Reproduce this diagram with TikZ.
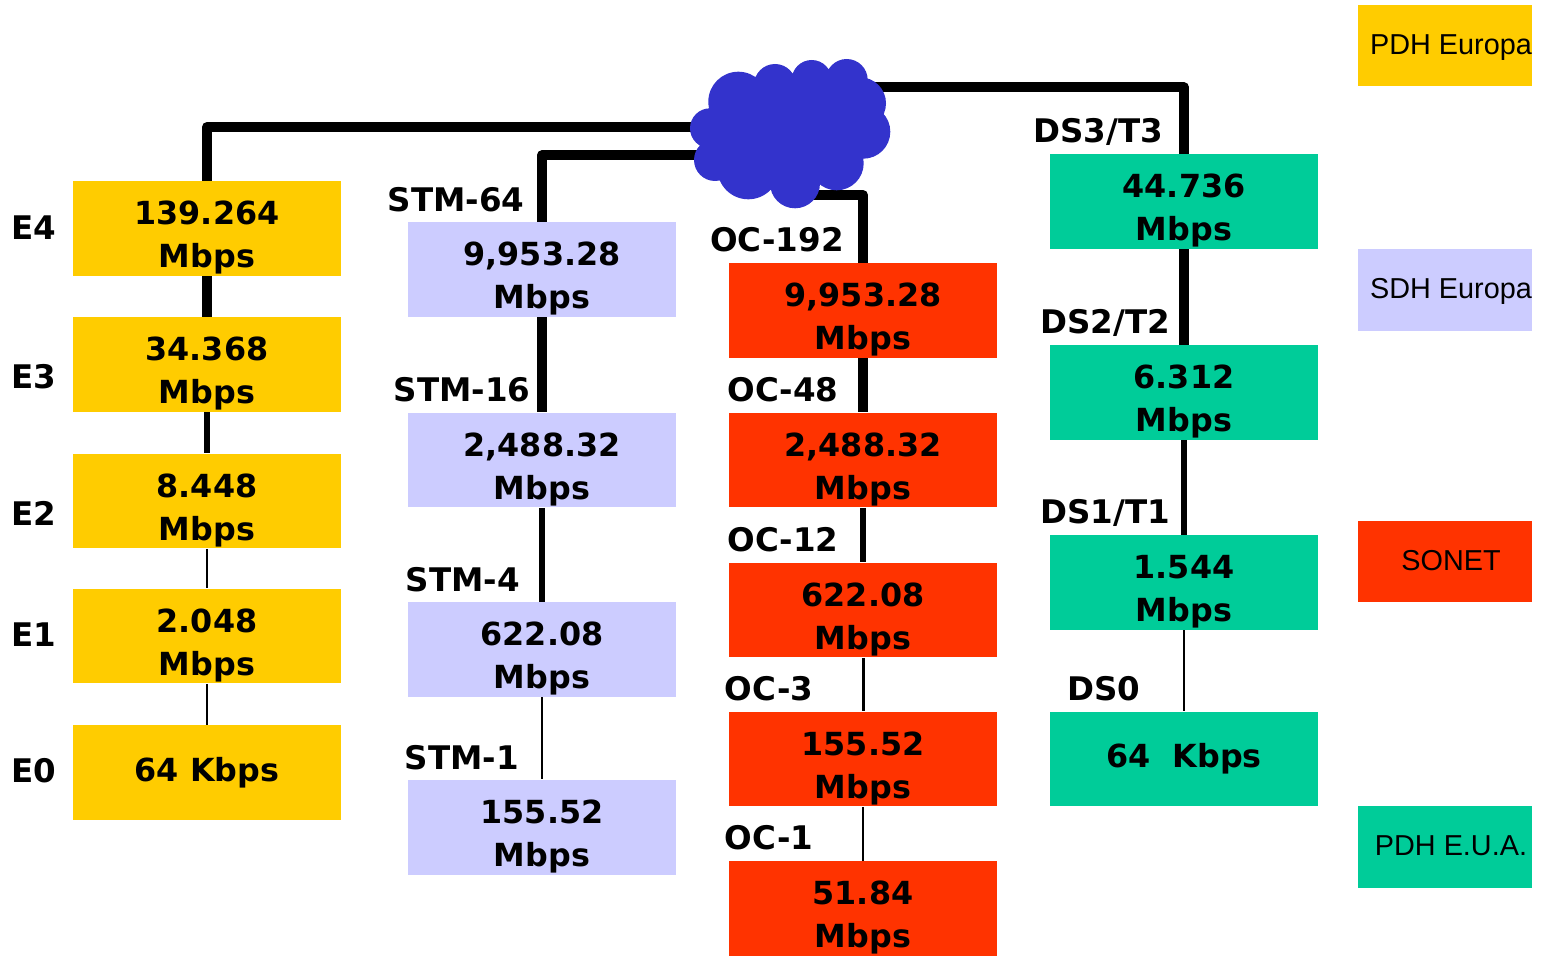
\documentclass[tikz,border=0pt]{standalone}
\usepackage{fontspec}
\setmainfont{DejaVu Sans}
\newfontfamily\legendfont{Liberation Sans}
\usetikzlibrary{shapes,backgrounds}
\definecolor{pdheu}{HTML}{FFCC00}
\definecolor{sdheu}{HTML}{CCCCFF}
\definecolor{sonet}{HTML}{FF3300}
\definecolor{pdhus}{HTML}{00CC99}
\definecolor{netblue}{HTML}{3333CC}
\newcommand{\rate}[1]{\rule{0pt}{24pt}#1\\Mbps}
\newcommand{\legtext}[1]{\hspace{6.8pt}\rule[-3.5pt]{0pt}{17pt}#1}

\begin{document}
\begin{tikzpicture}[
    x=0.02cm,y=-0.02cm,
    rt/.style   = {rectangle,inner sep=0pt,align=center,font=\fontsize{18.1}{24.4}\selectfont\bfseries,
                   minimum width=5.36cm,minimum height=1.9cm},
    lg/.style   = {rectangle,inner sep=0pt,align=center,font=\fontsize{16.4}{20}\selectfont\legendfont,
                   minimum width=3.48cm,minimum height=1.63cm},
    nm/.style   = {inner sep=0pt,font=\fontsize{18.5}{22}\selectfont\bfseries},
    ln/.style   = {black,line join=round},
  ]
  \useasboundingbox (0,0) rectangle (1544,956);

  % PDH Europa
  \node[rt,fill=pdheu] (e4) at (207,228.5) {\rate{139.264}};
  \node[rt,fill=pdheu] (e3) at (207,364.5) {\rate{34.368}};
  \node[rt,fill=pdheu] (e2) at (207,501)   {\rate{8.448}};
  \node[rt,fill=pdheu] (e1) at (207,636)   {\rate{2.048}};
  \node[rt,fill=pdheu] (e0) at (207,772.5) {64 Kbps};
  \node[nm] (le4) at (34,228) {E4};
  \node[nm] (le3) at (34,377) {E3};
  \node[nm] (le2) at (34,513) {E2};
  \node[nm] (le1) at (34,635) {E1};
  \node[nm] (le0) at (34,771) {E0};

  % SDH Europa
  \node[rt,fill=sdheu] (stm64) at (542,269.5) {\rate{9,953.28}};
  \node[rt,fill=sdheu] (stm16) at (542,460)   {\rate{2,488.32}};
  \node[rt,fill=sdheu] (stm4)  at (542,649.5) {\rate{622.08}};
  \node[rt,fill=sdheu] (stm1)  at (542,827)   {\rate{155.52}};
  \node[nm] (lstm64) at (456,200) {STM-64};
  \node[nm] (lstm16) at (462,390) {STM-16};
  \node[nm] (lstm4)  at (463,580) {STM-4};
  \node[nm] (lstm1)  at (462,758) {STM-1};

  % SONET
  \node[rt,fill=sonet] (oc192) at (863,310.5) {\rate{9,953.28}};
  \node[rt,fill=sonet] (oc48)  at (863,460)   {\rate{2,488.32}};
  \node[rt,fill=sonet] (oc12)  at (863,610)   {\rate{622.08}};
  \node[rt,fill=sonet] (oc3)   at (863,759)   {\rate{155.52}};
  \node[rt,fill=sonet] (oc1)   at (863,908.5) {\rate{51.84}};
  \node[nm] (loc192) at (777,240) {OC-192};
  \node[nm] (loc48)  at (783,390) {OC-48};
  \node[nm] (loc12)  at (783,540) {OC-12};
  \node[nm] (loc3)   at (769,689) {OC-3};
  \node[nm] (loc1)   at (769,838) {OC-1};

  % PDH E.U.A.
  \node[rt,fill=pdhus] (t3)  at (1184,201.5) {\rate{44.736}};
  \node[rt,fill=pdhus] (t2)  at (1184,392.5) {\rate{6.312}};
  \node[rt,fill=pdhus] (t1)  at (1184,582.5) {\rate{1.544}};
  \node[rt,fill=pdhus] (ds0) at (1184,759)   {64\ \ Kbps};
  \node[nm] (lt3)  at (1098,132) {DS3/T3};
  \node[nm] (lt2)  at (1105,323) {DS2/T2};
  \node[nm] (lt1)  at (1105,513) {DS1/T1};
  \node[nm] (lds0) at (1104,689) {DS0};

  % legend
  \node[lg,fill=pdheu] (lgpdh) at (1445,45.5)  {\legtext{PDH Europa}};
  \node[lg,fill=sdheu] (lgsdh) at (1445,290)   {\legtext{SDH Europa}};
  \node[lg,fill=sonet] (lgson) at (1445,561.5) {\legtext{SONET}};
  \node[lg,fill=pdhus] (lgusa) at (1445,847)   {\legtext{PDH E.U.A.}};

  % cloud
  \node[circle,inner sep=0pt,fill=netblue,minimum size=2.27cm] (net) at (790,133) {};
  \fill[netblue] (738.3,101.7) circle (30) (775,85) circle (21) (811.7,80) circle (20)
    (846.7,80) circle (21) (860,103.3) circle (26) (863.3,131.7) circle (27)
    (836.7,163.3) circle (27) (795,183.3) circle (25) (748.3,168.3) circle (31)
    (715,160) circle (21) (710,128.3) circle (20)
    (745,135) circle (34) (822,100) circle (28) (780,105) circle (28) (840,135) circle (30);

  \begin{scope}[on background layer]
    \draw[ln,line width=5.7pt] (net.174) -| (e4);
    \draw[ln,line width=5.7pt] (net.203) -| (stm64);
    \draw[ln,line width=5.7pt] ([yshift=-0.1cm]net.south) -| (oc192);
    \draw[ln,line width=5.7pt] (net.53) -| (t3);

    \draw[ln,line width=5.7pt] (e4) -- (e3);
    \draw[ln,line width=3.4pt] (e3) -- (e2);
    \draw[ln,line width=1.7pt] (e2) -- (e1);
    \draw[ln,line width=0.6pt] (e1) -- (e0);

    \draw[ln,line width=5.2pt] (stm64) -- (stm16);
    \draw[ln,line width=3.4pt] (stm16) -- (stm4);
    \draw[ln,line width=0.8pt] (stm4) -- (stm1);

    \draw[ln,line width=5.2pt] (oc192) -- (oc48);
    \draw[ln,line width=3.4pt] (oc48) -- (oc12);
    \draw[ln,line width=1.7pt] (oc12) -- (oc3);
    \draw[ln,line width=0.6pt] (oc3) -- (oc1);

    \draw[ln,line width=5.2pt] (t3) -- (t2);
    \draw[ln,line width=3.4pt] (t2) -- (t1);
    \draw[ln,line width=1.1pt] (t1) -- (ds0);
  \end{scope}

\end{tikzpicture}
\end{document}
